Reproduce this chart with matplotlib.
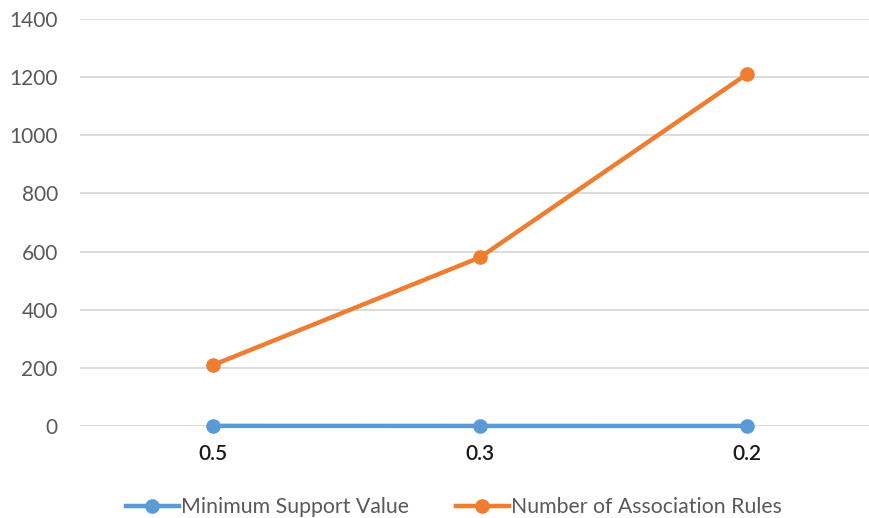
import matplotlib
matplotlib.use("Agg")
import matplotlib.pyplot as plt

categories = ["0.5", "0.3", "0.2"]
min_support = [0.5, 0.3, 0.2]
num_rules = [210, 580, 1210]
y_ticks = [0, 200, 400, 600, 800, 1000, 1200, 1400]

plt.rcParams["font.family"] = ["Lato", "DejaVu Sans"]

fig = plt.figure(figsize=(8.7, 5.18), dpi=100)
ax = fig.add_axes([80 / 870, 1 - 426 / 518, 800 / 870, 407 / 518])

x = list(range(len(categories)))
ax.plot(x, min_support, color="#5B9BD5", lw=3.2, marker="o", ms=9.5,
        label="Minimum Support Value", zorder=3, clip_on=False)
ax.plot(x, num_rules, color="#ED7D31", lw=3.2, marker="o", ms=9.5,
        label="Number of Association Rules", zorder=3, clip_on=False)

ax.set_xlim(-0.5, 2.5)
ax.set_ylim(0, 1400)
ax.set_yticks(y_ticks)
ax.set_xticks(x)
ax.set_xticklabels(categories)
ax.grid(axis="y", color="#D9D9D9", lw=1.3)
ax.set_axisbelow(True)
for s in ax.spines.values():
    s.set_visible(False)
ax.tick_params(axis="both", length=0, labelsize=15)
ax.tick_params(axis="y", colors="#595959", pad=16)
ax.tick_params(axis="x", colors="#1A1A1A", pad=13)
for lbl in ax.get_xticklabels():
    lbl.set_fontweight("semibold")

fig.legend(loc="center", bbox_to_anchor=(454 / 870, 1 - 507 / 518), ncol=2,
           frameon=False, fontsize=15.3, handlelength=2.5, handletextpad=0.1,
           columnspacing=2.2, labelcolor="#595959")

fig.savefig("out.png", dpi=100)
